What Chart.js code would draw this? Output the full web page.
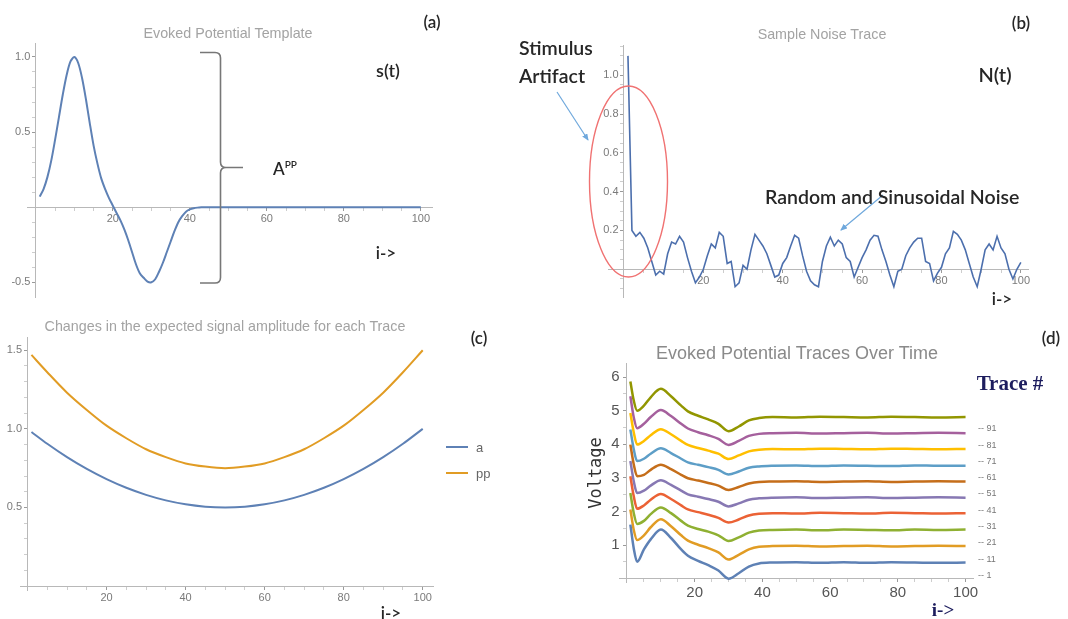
<!DOCTYPE html>
<html>
<head>
<meta charset="utf-8">
<script src="https://cdn.jsdelivr.net/npm/chart.js@4.4.1/dist/chart.umd.min.js"></script>
<style>
  html, body { margin: 0; padding: 0; background: #fff; }
  #page { position: relative; width: 1068px; height: 619px; overflow: hidden; font-family: 'Lato', sans-serif; }
  canvas { position: absolute; }
  .txt { position: absolute; transform: translate(-50%, -50%); white-space: nowrap; color: #262626; font-weight: 600; }
  .txtl { position: absolute; transform: translateY(-50%); white-space: nowrap; color: #262626; font-weight: 600; }
  .ptitle { position: absolute; transform: translate(-50%, -50%); white-space: nowrap; color: #a3a3a3; font-family: 'Liberation Sans', sans-serif; font-size: 14.3px; }
  .leg { position: absolute; font-family: 'Liberation Sans', sans-serif; font-size: 9px; color: #777; transform: translateY(-50%); white-space: nowrap; }
  .navy { color: #1d1d5e; font-family: 'Liberation Serif', serif; font-weight: bold; }
  svg { position: absolute; left: 0; top: 0; pointer-events: none; }
</style>
</head>
<body>
<div id="page">
  <canvas id="chartA" width="460" height="310" style="left:0;top:0"></canvas>
  <canvas id="chartB" width="500" height="310" style="left:560px;top:0"></canvas>
  <canvas id="chartC" width="540" height="309" style="left:0;top:310px"></canvas>
  <canvas id="chartD" width="508" height="299" style="left:560px;top:320px"></canvas>

  <svg width="1068" height="619">
    <defs>
      <marker id="arr" markerWidth="8" markerHeight="8" refX="6" refY="3" orient="auto" markerUnits="userSpaceOnUse">
        <path d="M0,0 L7,3 L0,6 Z" fill="#6fa8dc"></path>
      </marker>
    </defs>
    <path d="M200,52.5 L215,52.5 Q220.5,52.5 220.5,58 L220.5,162 Q220.5,167.5 226,167.5 L243,167.5 M226,167.5 Q220.5,167.5 220.5,173 L220.5,277.5 Q220.5,283 215,283 L200,283" fill="none" stroke="#777" stroke-width="1.6"></path>
    <ellipse cx="628.5" cy="181.5" rx="39" ry="95.5" fill="none" stroke="#f07272" stroke-width="1.4"></ellipse>
    <line x1="557" y1="92" x2="588" y2="140" stroke="#6fa8dc" stroke-width="1.2" marker-end="url(#arr)"></line>
    <line x1="883" y1="195" x2="841" y2="230" stroke="#6fa8dc" stroke-width="1.2" marker-end="url(#arr)"></line>
  </svg>

  <!-- panel (a) -->
  <div class="ptitle" style="left:228px;top:33px">Evoked Potential Template</div>
  <div class="txt" style="left:432px;top:21px;font-size:17px">(a)</div>
  <div class="txt" style="left:388px;top:70px;font-size:18px">s(t)</div>
  <div class="txt" style="left:285px;top:168px;font-size:17px">A<sup style="font-size:10px">PP</sup></div>
  <div class="txt" style="left:386px;top:252px;font-size:17px">i-&gt;</div>

  <!-- panel (b) -->
  <div class="ptitle" style="left:822px;top:34px">Sample Noise Trace</div>
  <div class="txt" style="left:1021px;top:22px;font-size:17px">(b)</div>
  <div class="txt" style="left:995px;top:74px;font-size:20px">N(t)</div>
  <div class="txtl" style="left:519px;top:47px;font-size:19.5px">Stimulus</div>
  <div class="txtl" style="left:519px;top:75px;font-size:19.5px">Artifact</div>
  <div class="txtl" style="left:765px;top:196px;font-size:19.5px">Random and Sinusoidal Noise</div>
  <div class="txt" style="left:1002px;top:298px;font-size:17px">i-&gt;</div>

  <!-- panel (c) -->
  <div class="ptitle" style="left:225px;top:326px">Changes in the expected signal amplitude for each Trace</div>
  <div class="txt" style="left:479px;top:337px;font-size:17px">(c)</div>
  <div id="legendC"></div>
  <div class="txt" style="left:391px;top:612px;font-size:17px">i-&gt;</div>

  <!-- panel (d) -->
  <div class="ptitle" style="left:797px;top:353px;font-size:18px;color:#8a8a8a">Evoked Potential Traces Over Time</div>
  <div class="txt" style="left:1051px;top:337px;font-size:17px">(d)</div>
  <div class="txt navy" style="left:1010px;top:383px;font-size:21px">Trace #</div>
  <div id="legendD"></div>
  <div class="txt" style="left:595px;top:473px;font-size:17px;font-family:'DejaVu Sans Mono',monospace;font-weight:normal;color:#333;transform:translate(-50%,-50%) rotate(-90deg)">Voltage</div>
  <div class="txt navy" style="left:943px;top:610px;font-size:19px">i-&gt;</div>
</div>

<script>
// (a) evoked potential template s(t)
const tplX = [1, 2, 3, 4, 5, 6, 7, 8, 9, 10, 11, 12, 13, 14, 15, 16, 17, 18, 19, 20,
  21, 22, 23, 24, 25, 26, 27, 28, 29, 30, 31, 32, 33, 34, 35, 36, 37, 38, 39, 40,
  41, 42, 43, 44, 50, 60, 70, 80, 90, 100];
const tplY = [0.07, 0.12, 0.20, 0.31, 0.45, 0.60, 0.75, 0.88, 0.97, 1.00,
  0.96, 0.86, 0.72, 0.56, 0.41, 0.29, 0.19, 0.12, 0.06, 0.01,
  -0.04, -0.09, -0.15, -0.22, -0.30, -0.38, -0.44, -0.47, -0.495, -0.50,
  -0.48, -0.43, -0.37, -0.30, -0.23, -0.16, -0.10, -0.06, -0.03, -0.015,
  -0.007, -0.003, -0.001, 0, 0, 0, 0, 0, 0, 0];

// (b) sample noise trace N(t), i = 1..100
const noiseY = [1.10, 0.20, 0.17, 0.19, 0.16, 0.11, 0.04, -0.03, -0.01, -0.025,
  0.08, 0.14, 0.13, 0.17, 0.14, 0.06, -0.01, -0.07, -0.04, 0.00,
  0.07, 0.13, 0.11, 0.19, 0.17, 0.03, 0.04, -0.09, -0.07, 0.02,
  0.00, 0.10, 0.18, 0.15, 0.12, 0.08, 0.02, -0.04, -0.03, 0.03,
  0.06, 0.12, 0.175, 0.16, 0.07, -0.01, -0.06, -0.08, -0.09, 0.04,
  0.12, 0.165, 0.12, 0.15, 0.13, 0.06, 0.04, -0.04, 0.01, 0.06,
  0.10, 0.15, 0.175, 0.17, 0.10, 0.04, -0.03, -0.09, -0.01, 0.00,
  0.07, 0.11, 0.14, 0.16, 0.16, 0.04, 0.03, -0.06, -0.02, 0.01,
  0.08, 0.11, 0.195, 0.18, 0.15, 0.10, 0.03, -0.04, -0.09, 0.00,
  0.10, 0.13, 0.10, 0.17, 0.11, 0.08, 0.00, -0.05, 0.00, 0.035];

// (c) expected amplitude per trace
const ampX = [1, 5, 10, 15, 20, 25, 30, 35, 40, 45, 50, 55, 60, 65, 70, 75, 80, 85, 90, 95, 100];
const ampA = [0.98, 0.905, 0.82, 0.745, 0.68, 0.625, 0.58, 0.545, 0.52, 0.505, 0.50,
  0.505, 0.52, 0.545, 0.58, 0.625, 0.68, 0.745, 0.82, 0.905, 1.00];
const ampPP = [1.47, 1.36, 1.23, 1.12, 1.02, 0.94, 0.87, 0.82, 0.78, 0.76, 0.75,
  0.76, 0.78, 0.82, 0.87, 0.94, 1.02, 1.12, 1.23, 1.36, 1.50];
const ampLabels = ['a', 'pp'];

// (d) evoked potential traces
const traceX = [1, 2, 3, 5, 7, 10, 13, 16, 18, 21, 24, 27, 30, 33, 36, 39, 43, 50, 57, 64, 71, 78, 85, 92, 100];
const trace1  = [1.61, 0.90, 0.50, 0.87, 1.17, 1.46, 1.21, 0.87, 0.68, 0.53, 0.40, 0.24, 0.00, 0.16, 0.36, 0.45, 0.48, 0.49, 0.47, 0.49, 0.47, 0.49, 0.48, 0.47, 0.48];
const trace11 = [2.06, 1.45, 1.15, 1.29, 1.53, 1.77, 1.56, 1.29, 1.13, 1.01, 0.91, 0.78, 0.57, 0.71, 0.87, 0.95, 0.97, 0.98, 0.96, 0.97, 0.98, 0.96, 0.97, 0.98, 0.97];
const trace21 = [2.55, 1.95, 1.63, 1.72, 1.92, 2.12, 1.95, 1.72, 1.58, 1.48, 1.40, 1.29, 1.12, 1.23, 1.37, 1.43, 1.45, 1.46, 1.44, 1.46, 1.45, 1.44, 1.46, 1.45, 1.46];
const trace31 = [3.05, 2.45, 2.08, 2.18, 2.35, 2.52, 2.37, 2.18, 2.06, 1.98, 1.90, 1.81, 1.67, 1.76, 1.88, 1.93, 1.95, 1.94, 1.96, 1.95, 1.94, 1.96, 1.95, 1.94, 1.95];
const trace41 = [3.50, 2.90, 2.55, 2.62, 2.77, 2.93, 2.79, 2.62, 2.51, 2.44, 2.37, 2.29, 2.15, 2.24, 2.35, 2.39, 2.41, 2.42, 2.40, 2.41, 2.42, 2.40, 2.41, 2.42, 2.41];
const trace51 = [3.99, 3.40, 3.05, 3.09, 3.24, 3.39, 3.26, 3.09, 2.99, 2.92, 2.85, 2.77, 2.64, 2.73, 2.83, 2.88, 2.89, 2.90, 2.88, 2.89, 2.90, 2.88, 2.89, 2.90, 2.89];
const trace61 = [4.44, 3.85, 3.50, 3.57, 3.72, 3.88, 3.74, 3.57, 3.46, 3.39, 3.32, 3.24, 3.10, 3.19, 3.30, 3.34, 3.36, 3.37, 3.35, 3.37, 3.36, 3.35, 3.37, 3.36, 3.36];
const trace71 = [4.93, 4.35, 3.99, 4.10, 4.27, 4.45, 4.30, 4.10, 3.98, 3.89, 3.81, 3.72, 3.56, 3.67, 3.79, 3.84, 3.86, 3.85, 3.87, 3.86, 3.85, 3.87, 3.86, 3.85, 3.86];
const trace81 = [5.43, 4.80, 4.48, 4.61, 4.81, 5.02, 4.84, 4.61, 4.47, 4.36, 4.27, 4.16, 3.98, 4.10, 4.25, 4.31, 4.33, 4.34, 4.32, 4.33, 4.34, 4.32, 4.33, 4.34, 4.33];
const trace91 = [5.87, 5.30, 5.00, 5.15, 5.40, 5.65, 5.43, 5.15, 4.98, 4.85, 4.74, 4.61, 4.39, 4.53, 4.71, 4.78, 4.81, 4.80, 4.82, 4.81, 4.80, 4.82, 4.81, 4.80, 4.81];
const traceLabels = ['1', '11', '21', '31', '41', '51', '61', '71', '81', '91'];
const traceColors = ['#5E81B5', '#E19C24', '#8FB032', '#EB6235', '#8778B3', '#C56E1A', '#5D9EC7', '#FFBF00', '#A5609D', '#929600'];
const traces = [trace1, trace11, trace21, trace31, trace41, trace51, trace61, trace71, trace81, trace91];

const toPoints = (xs, ys) => ys.map((y, i) => ({ x: xs[i], y }));

function isMajor(v, step) {
  return Math.abs(v / step - Math.round(v / step)) < 1e-6;
}

// axes cross at the origin, Mathematica style; minor ticks carry no label
function makeScale(o) {
  return {
    type: 'linear',
    min: o.min,
    max: o.max,
    position: o.position,
    border: { display: true, color: '#b8b8b8', width: 1 },
    grid: {
      drawOnChartArea: false,
      drawTicks: true,
      tickLength: 3,
      tickColor: ctx => isMajor(ctx.tick.value, o.major) ? '#9a9a9a' : '#cdcdcd'
    },
    ticks: {
      stepSize: o.minor,
      autoSkip: false,
      includeBounds: false,
      maxRotation: 0,
      color: o.color || '#7a7a7a',
      font: { family: 'Liberation Sans', size: o.size || 11 },
      padding: 2,
      callback: v => (isMajor(v, o.major) && Math.abs(v) > 1e-9) ? o.fmt(v) + (o.gap || '') : ''
    }
  };
}

function makeChart(id, datasets, xScale, yScale, padding) {
  return new Chart(document.getElementById(id), {
    type: 'line',
    data: { datasets },
    options: {
      responsive: false,
      animation: false,
      layout: { padding },
      plugins: { legend: { display: false }, tooltip: { enabled: false } },
      elements: { point: { radius: 0 } },
      scales: { x: xScale, y: yScale }
    }
  });
}

const fmt0 = v => String(Math.round(v));
const fmt1 = v => v.toFixed(1);
const GAP = '\u2002';

// (a)
makeChart('chartA', [{
  data: toPoints(tplX, tplY),
  borderColor: '#5E81B5', borderWidth: 2, tension: 0.3
}],
  makeScale({ min: -2.3, max: 102.9, position: { y: 0 }, minor: 5, major: 20, fmt: fmt0 }),
  makeScale({ min: -0.598, max: 1.093, position: { x: 0 }, minor: 0.1, major: 0.5, fmt: fmt1, gap: GAP }),
  { left: 27, top: 43, right: 28, bottom: 13 });

// (b)
makeChart('chartB', [{
  data: noiseY.map((y, i) => ({ x: i + 1, y })),
  borderColor: '#4C6FAD', borderWidth: 1.6, tension: 0
}],
  makeScale({ min: -4.03, max: 101.8, position: { y: 0 }, minor: 5, major: 20, fmt: fmt0 }),
  makeScale({ min: -0.143, max: 1.156, position: { x: 0 }, minor: 0.05, major: 0.2, fmt: fmt1, gap: GAP }),
  { left: 48, top: 45, right: 32, bottom: 13 });

// (c)
makeChart('chartC', [
  { data: toPoints(ampX, ampA), borderColor: '#5E81B5', borderWidth: 2, cubicInterpolationMode: 'monotone' },
  { data: toPoints(ampX, ampPP), borderColor: '#E19C24', borderWidth: 2, cubicInterpolationMode: 'monotone' }
],
  makeScale({ min: -1.9, max: 102.6, position: { y: 0 }, minor: 5, major: 20, fmt: fmt0 }),
  makeScale({ min: -0.025, max: 1.584, position: { x: 0 }, minor: 0.1, major: 0.5, fmt: fmt1, gap: GAP }),
  { left: 20, top: 27, right: 107, bottom: 29 });

// (d)
makeChart('chartD', traces.map((t, k) => ({
  data: toPoints(traceX, t),
  borderColor: traceColors[k], borderWidth: 2.5, cubicInterpolationMode: 'monotone'
})),
  makeScale({ min: -2.36, max: 102.2, position: { y: 0 }, minor: 5, major: 20, fmt: fmt0, size: 15, color: '#555' }),
  makeScale({ min: -0.1, max: 6.42, position: { x: 0 }, minor: 0.5, major: 1, fmt: fmt0, size: 15, color: '#555', gap: '\u2002' }),
  { left: 59, top: 43, right: 95, bottom: 37 });

// legends
const legendC = document.getElementById('legendC');
[['#5E81B5', 447], ['#E19C24', 473]].forEach(([c, y], k) => {
  const line = document.createElement('div');
  line.style.cssText = `position:absolute;left:446px;top:${y - 1}px;width:22px;height:2px;background:${c}`;
  legendC.appendChild(line);
  const lab = document.createElement('div');
  lab.className = 'leg';
  lab.style.cssText = `left:476px;top:${y}px;font-size:13px;color:#666`;
  lab.textContent = ampLabels[k];
  legendC.appendChild(lab);
});

const legendD = document.getElementById('legendD');
const legendTops = [575, 558.7, 542.3, 526, 510, 493.3, 477.3, 461, 445, 428.3];
traceLabels.forEach((t, k) => {
  const lab = document.createElement('div');
  lab.className = 'leg';
  lab.style.left = '978px';
  lab.style.top = legendTops[k] + 'px';
  lab.textContent = '-- ' + t;
  legendD.appendChild(lab);
});
</script>
</body>
</html>
